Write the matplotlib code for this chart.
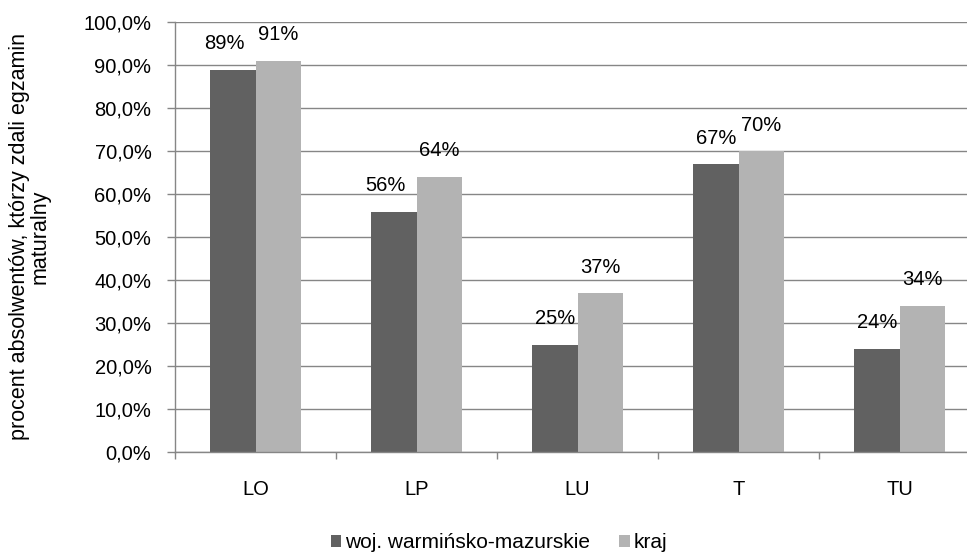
import matplotlib
matplotlib.use("Agg")
import matplotlib.pyplot as plt
import numpy as np
from matplotlib.ticker import FuncFormatter

categories = ["LO", "LP", "LU", "T", "TU"]
woj = [0.89, 0.56, 0.25, 0.67, 0.24]
kraj = [0.91, 0.64, 0.37, 0.70, 0.34]
series_names = ["woj. warmińsko-mazurskie", "kraj"]
yticks = np.arange(0, 1.01, 0.1)

plt.rcParams['font.family'] = ['Liberation Sans', 'DejaVu Sans']

fig = plt.figure(figsize=(9.67, 5.56), dpi=100)
ax = fig.add_axes([175/967, 1-452.3/556, 805/967, 430/556])

x = np.arange(len(categories))
w = 45.5/161
dark = "#616161"
light = "#b3b3b3"
b1 = ax.bar(x - w/2, woj, w, color=dark, label=series_names[0], zorder=3)
b2 = ax.bar(x + w/2, kraj, w, color=light, label=series_names[1], zorder=3)

# small horizontal nudges of the dark-series labels (points), to avoid overlaps
dark_dx = [-6, -6, 0, 0, 0]
for bars, vals, dxs in ((b1, woj, dark_dx), (b2, kraj, [0]*5)):
    for rect, v, dx in zip(bars, vals, dxs):
        ax.annotate(f"{round(v*100):.0f}%", (rect.get_x()+rect.get_width()/2, v),
                    xytext=(dx, 12), textcoords="offset points", ha="center", va="bottom",
                    fontsize=14.5)

ax.set_xlim(-0.5, len(categories)-0.5)
ax.set_ylim(0, 1.0)
ax.set_yticks(yticks)
ax.yaxis.set_major_formatter(FuncFormatter(lambda v, p: f"{v*100:.1f}%".replace(".", ",")))
ax.set_xticks(x)
ax.set_xticklabels(categories)
ax.set_xticks(np.arange(-0.5, len(categories)), minor=True)
ax.tick_params(axis='x', which='major', length=0, pad=20, labelsize=14.5)
ax.tick_params(axis='x', which='minor', length=5, color="#868686", width=1)
ax.tick_params(axis='y', length=6, color="#868686", width=1, labelsize=14.5, pad=11)

ax.grid(axis='y', color="#868686", linewidth=1, zorder=0)
for s in ["top", "right"]:
    ax.spines[s].set_visible(False)
for s in ["left", "bottom"]:
    ax.spines[s].set_color("#868686")
    ax.spines[s].set_linewidth(1)
    ax.spines[s].set_zorder(4)

fig.text(30/967, 1-237/556, "procent absolwentów, którzy zdali egzamin\nmaturalny",
         rotation=90, ha="center", va="center", multialignment="center", fontsize=15.5,
         linespacing=1.0)

fig.legend(handles=[b1, b2], labels=series_names, loc="center", bbox_to_anchor=(499/967, 1-543/556),
           ncol=2, frameon=False, fontsize=15, handlelength=0.5, handleheight=0.5,
           handletextpad=0.2, columnspacing=1.4, borderpad=0, borderaxespad=0)

fig.savefig("out.png", dpi=100)
